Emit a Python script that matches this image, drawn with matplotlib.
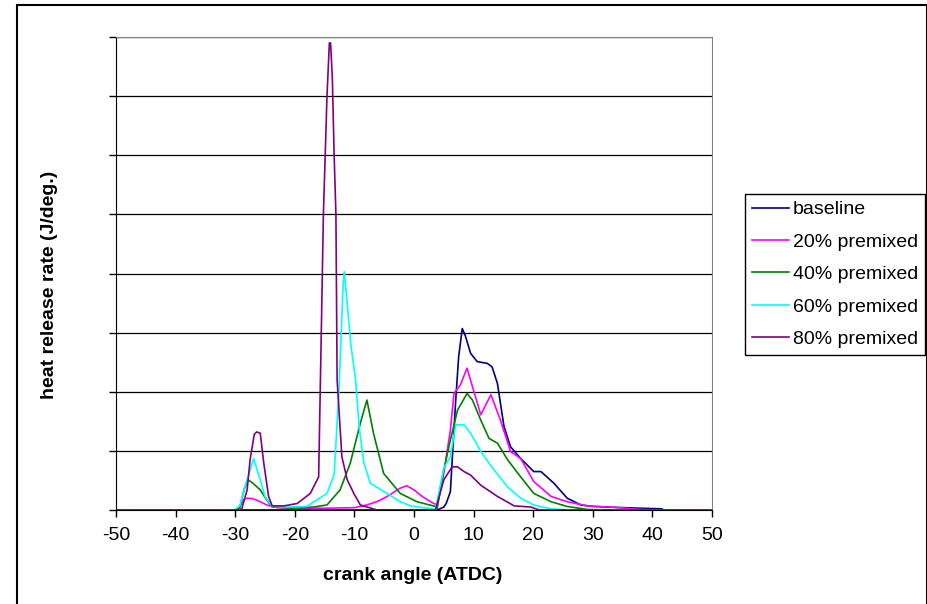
import matplotlib
matplotlib.use('Agg')
import matplotlib.pyplot as plt
from matplotlib.patches import Rectangle

plt.rcParams['font.family'] = ['Liberation Sans', 'DejaVu Sans']
plt.rcParams['axes.unicode_minus'] = False

# Heat release rate traces (arbitrary units: one gridline = 10)
baseline_ca = [-50, -30, 3.9, 5.0, 5.4, 6.1, 7.0, 7.5, 8.1, 8.6, 9.5, 10.6, 12.3, 13.1, 14.0, 15.1,
               16.2, 17.9, 20.1, 21.3, 23.5, 25.7, 28, 30, 33.6, 38, 41.5, 42, 50]
baseline_hrr = [0, 0, 0, 0.5, 1.1, 3.1, 18.6, 26, 30.7, 29.5, 26.5, 25.1, 24.8, 24.2, 21.4, 14.1,
                10.7, 8.7, 6.5, 6.5, 4.5, 2.0, 0.85, 0.6, 0.45, 0.3, 0.2, 0, 0]

p20_ca = [-50, -30, -29.3, -28.5, -28, -27, -26, -24.7, -23, -20, -15, -10, -7.9, -6, -4.5, -2.3,
          -1.2, 0, 1.5, 3.3, 3.9, 5.0, 6.1, 6.7, 7.8, 8.9, 9.8, 11.2, 12.9, 14.5, 16.2, 17.9,
          20.1, 23, 25.7, 29.1, 33.6, 38, 40, 50]
p20_hrr = [0, 0, 0.5, 1.8, 2.0, 1.9, 1.5, 0.85, 0.4, 0.3, 0.3, 0.4, 0.85, 1.5, 2.3, 3.7,
           4.1, 3.4, 2.2, 1.1, 0.9, 6.2, 13.5, 19.7, 21.2, 24, 20.9, 16.1, 19.5, 15.2, 9.9, 8.7,
           4.8, 2.3, 1.4, 0.7, 0.45, 0.1, 0, 0]

p40_ca = [-50, -30, -29.2, -28.5, -27.8, -27, -25.8, -24.7, -23.8, -20, -16.9, -14.6, -12.4, -10.7,
          -9.0, -7.9, -6.8, -5.1, -2.3, 0.5, 3.6, 3.9, 5.0, 6.1, 7.3, 8.9, 9.8, 11.2, 12.6, 14.0,
          15.7, 17.9, 20.1, 23, 25.7, 29, 32, 50]
p40_hrr = [0, 0, 0.5, 3.5, 5.1, 4.5, 3.4, 1.7, 0.5, 0.3, 0.5, 0.85, 3.4, 7.9,
           14.7, 18.6, 13, 6.2, 2.8, 1.4, 0.6, 0.3, 6.8, 11.8, 16.9, 19.7, 18.6, 15.2, 12.1, 11.3,
           8.5, 5.6, 2.8, 1.4, 0.6, 0.1, 0, 0]

p60_ca = [-50, -30, -29.2, -28.2, -26.9, -25.8, -25, -23.8, -21.5, -18, -14.6, -13.4, -12.6, -11.9,
          -11.7, -11.3, -10.6, -9.8, -9.2, -8.4, -7.3, -4.5, -2.3, -0.6, 3.6, 5.0, 6.1, 7.0, 8.4,
          9.5, 11.2, 13.4, 15.7, 17.9, 20.1, 23, 26, 50]
p60_hrr = [0, 0, 0.8, 4.5, 8.7, 5.1, 2.3, 0.6, 0.5, 0.6, 2.8, 6, 20, 38,
           40.3, 36, 28, 22, 14, 7.9, 4.5, 2.8, 1.4, 0.7, 0.1, 7.1, 9.0, 14.4, 14.4,
           13, 9.9, 6.8, 3.9, 2.0, 0.85, 0.2, 0, 0]

p80_ca = [-50, -30, -28.9, -28, -27.5, -26.8, -26.4, -25.8, -25.2, -24.4, -23.8, -21.8, -19.6, -17.4,
          -16, -15.7, -15.2, -14.9, -14.6, -14.2, -14.0, -13.7, -13.4, -13.1, -12.9, -12.1, -11.2,
          -10.1, -9.0, -6.2, 3.6, 5.0, 6.4, 7.3, 8.4, 9.5, 11.2, 14.0, 16.8, 19.6, 21, 50]
p80_hrr = [0, 0, 0.2, 3.4, 8.5, 12.8, 13.2, 13, 7.9, 2.3, 0.7, 0.7, 1.1, 2.8,
           5.6, 22, 50, 60, 70, 79, 79, 73, 60, 50, 22, 9, 5.1,
           2.8, 0.85, 0, 0, 5.1, 7.3, 7.3, 6.5, 5.9, 4.2, 2.3, 0.7, 0.5, 0, 0]

series = [
    ('baseline', baseline_ca, baseline_hrr, '#000080'),
    ('20% premixed', p20_ca, p20_hrr, '#FF00FF'),
    ('40% premixed', p40_ca, p40_hrr, '#008000'),
    ('60% premixed', p60_ca, p60_hrr, '#00FFFF'),
    ('80% premixed', p80_ca, p80_hrr, '#800080'),
]

fig = plt.figure(figsize=(9.28, 6.04), dpi=100)
ax = fig.add_axes([116 / 928, 94 / 604, 596 / 928, 473 / 604])

for name, ca, hrr, col in series:
    ax.plot(ca, hrr, color=col, lw=1.2, label=name)

ax.set_xlim(-50, 50)
ax.set_ylim(0, 80)
ax.set_xticks(range(-50, 51, 10))
ax.set_yticks(range(0, 81, 10))
ax.set_yticklabels([])
ax.grid(axis='y', color='black', lw=0.9)
ax.set_axisbelow(True)
ax.tick_params(axis='x', direction='out', length=5, width=1, labelsize=14, pad=7)
ax.tick_params(axis='y', direction='out', length=5, width=1)

for side in ['top', 'right']:
    ax.spines[side].set_color('#808080')
for side in ['left', 'bottom']:
    ax.spines[side].set_color('black')

ax.set_xlabel('crank angle (ATDC)', fontsize=14, fontweight='bold')
ax.xaxis.label.set_va('center')
ax.xaxis.set_label_coords(0.497, -0.139)
ax.set_ylabel('heat release rate (J/deg.)', fontsize=14, fontweight='bold')
ax.yaxis.label.set_va('center')
ax.yaxis.set_label_coords(-0.111, 0.476)

leg = fig.legend(loc='upper left', bbox_to_anchor=(745 / 928, 1 - 194 / 604), fontsize=14,
                 frameon=True, fancybox=False, edgecolor='black', framealpha=1,
                 handlelength=1.9, handletextpad=0.2, labelspacing=0.76, borderpad=0.35,
                 borderaxespad=0)
leg.get_frame().set_linewidth(1.0)

# outer chart border
fig.patches.append(Rectangle((17 / 928, -0.02), 910 / 928, 599 / 604 + 0.02,
                             transform=fig.transFigure, fill=False, lw=1.5, ec='black'))

fig.savefig('out.png', dpi=100)
